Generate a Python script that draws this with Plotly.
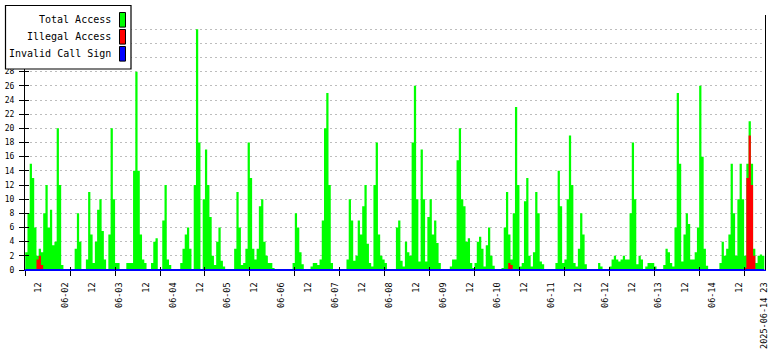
import plotly.graph_objects as go
import pandas as pd

# ---------------- data (hourly counts) ----------------
total_access = [
    2.5, 8, 15, 13, 6, 2, 3, 2.5, 8, 12,
    6, 8.5, 3.5, 4, 20, 12, 0.7, 0, 0, 0,
    0, 0, 3, 8, 4, 0, 0, 1.5, 11, 5,
    1, 4, 8.5, 10, 5.5, 1.5, 0, 5, 20, 10,
    1, 1, 0, 0, 0, 1, 1, 1, 14, 28,
    14, 5, 1.5, 1, 0, 0, 1, 4, 4.5, 0,
    0, 7, 12, 1.5, 0.7, 0, 0, 0, 0, 1,
    3, 5, 6, 3, 0, 12, 34, 18, 0, 10,
    17, 12, 7.5, 2, 0.7, 4, 6, 1.3, 0.5, 0,
    0, 0, 0, 3, 11, 6, 0.7, 1, 3, 18,
    13, 3, 1.5, 3, 9, 10, 4, 2, 1, 1,
    0.3, 0, 0, 0, 0, 0, 0, 0, 0, 1,
    8, 6, 2.5, 0.8, 0, 0, 0, 0.5, 1, 1,
    0.7, 1.5, 7, 20, 25, 12, 1, 0, 0, 0,
    0, 0, 0, 1.5, 10, 7, 1.3, 2, 7, 5,
    9, 12, 3.7, 1, 0.5, 12, 18, 5, 2, 1.5,
    1, 0, 0, 0, 0, 6, 7, 1.3, 0.5, 4,
    2.5, 2, 18, 26, 10, 1.2, 17, 10, 1.2, 7.5,
    10, 5, 7, 3.8, 1, 0, 0, 0, 0, 0.5,
    1.5, 1.5, 15.5, 20, 10, 9, 4, 4.5, 1, 0.3,
    1, 4, 4.7, 3, 0.5, 3.5, 6, 2, 0.6, 0,
    0, 0, 0.3, 6, 11, 5, 1.5, 8, 23, 12,
    0.5, 1, 9.7, 13, 2, 0.5, 2.5, 11, 8, 1.2,
    0.8, 0, 0, 0, 0, 0, 1, 14, 9, 1,
    1.5, 10, 19, 12, 1, 0.5, 3, 8, 5, 0.8,
    0, 0, 0, 0, 0, 1, 0.5, 0, 0, 0,
    0.5, 1.5, 2, 1.5, 1.2, 1.5, 2, 1.5, 1.5, 8,
    18, 10, 0.8, 2, 1.5, 0, 0.5, 1, 1, 1,
    0.5, 0, 0, 0, 0.7, 3, 2.5, 1, 0.5, 6,
    25, 15, 1.2, 5, 8, 6.5, 1.5, 1.5, 2.5, 6,
    26, 16, 3, 0.6, 0, 0, 0, 0, 0, 1,
    4, 2, 3, 5, 15, 8, 2, 10, 15, 10,
    2, 15, 21, 15, 3, 1, 2, 2.2, 2,
]

illegal_access = [0] * len(total_access)
illegal_hours = [5, 6, 7, 215, 216, 320, 321, 322, 323, 324]
illegal_values = [1.5, 2, 0.7, 1, 0.7, 0.3, 13, 19, 12, 2]
for h, v in zip(illegal_hours, illegal_values):
    illegal_access[h] = v

invalid_call_sign = [0] * len(total_access)

series_start = "2025-06-01 06:00"
x_range = ["2025-06-01 05:54", "2025-06-14 23:18"]

label_times = [
    "2025-06-01 12:00", "2025-06-02 00:00", "2025-06-02 12:00", "2025-06-03 00:00",
    "2025-06-03 12:00", "2025-06-04 00:00", "2025-06-04 12:00", "2025-06-05 00:00",
    "2025-06-05 12:00", "2025-06-06 00:00", "2025-06-06 12:00", "2025-06-07 00:00",
    "2025-06-07 12:00", "2025-06-08 00:00", "2025-06-08 12:00", "2025-06-09 00:00",
    "2025-06-09 12:00", "2025-06-10 00:00", "2025-06-10 12:00", "2025-06-11 00:00",
    "2025-06-11 12:00", "2025-06-12 00:00", "2025-06-12 12:00", "2025-06-13 00:00",
    "2025-06-13 12:00", "2025-06-14 00:00", "2025-06-14 12:00", "2025-06-14 23:00",
]
label_text = [
    "12", "06-02", "12", "06-03", "12", "06-04", "12", "06-05",
    "12", "06-06", "12", "06-07", "12", "06-08", "12", "06-09",
    "12", "06-10", "12", "06-11", "12", "06-12", "12", "06-13",
    "12", "06-14", "12", "2025-06-14 23",
]
tick_mark_times = pd.date_range("2025-06-01 06:00", periods=17, freq="20h")

y_tick_vals = [0, 2, 4, 6, 8, 10, 12, 14, 16, 18, 20, 22, 24, 26, 28, 30, 32, 34, 36]
# labels from 30 up are hidden behind the legend box in the reference
y_tick_text = ["0", "2", "4", "6", "8", "10", "12", "14", "16", "18", "20",
               "22", "24", "26", "28", "", "", "", ""]

legend_names = ["Total Access", "Illegal Access", "Invalid Call Sign"]
legend_colors = ["#00ff00", "#ff0000", "#0000ff"]

# ---------------- figure ----------------
W, H = 780, 350
ML, MR, MT, MB = 25, 15, 15, 80
PW, PH = W - ML - MR, H - MT - MB

def px_x(p):
    return (p - ML) / PW

def px_y(p):
    return (H - MB - p) / PH

times = pd.date_range(series_start, periods=len(total_access), freq="h")
# one extra step so the last hourly value gets its full width
step_times = list(times) + [times[-1] + pd.Timedelta(hours=1)]
FONT = "DejaVu Sans Mono"

def steps(vals):
    return list(vals) + [vals[-1]]

fig = go.Figure()
fig.add_trace(go.Scatter(
    x=step_times, y=steps(total_access), mode="lines", line=dict(width=0, shape="hv"),
    fill="tozeroy", fillcolor="#00ff00",
    name="Total Access", xaxis="x", yaxis="y",
))
fig.add_trace(go.Scatter(
    x=step_times, y=steps(illegal_access), mode="lines", line=dict(width=0, shape="hv"),
    fill="tozeroy", fillcolor="#ff0000",
    name="Illegal Access", xaxis="x2", yaxis="y2",
))
fig.add_trace(go.Scatter(
    x=step_times, y=steps(invalid_call_sign), mode="lines",
    line=dict(color="#0000ff", width=2, shape="hv"),
    name="Invalid Call Sign", xaxis="x3", yaxis="y",
))

common_x = dict(type="date", range=x_range, showgrid=False, zeroline=False, automargin=False)
fig.update_layout(
    width=W, height=H,
    margin=dict(l=ML, r=MR, t=MT, b=MB, autoexpand=False),
    paper_bgcolor="white", plot_bgcolor="white",
    showlegend=False,
    font=dict(family=FONT, color="black"),
    xaxis=dict(
        **common_x, anchor="y",
        tickmode="array", tickvals=label_times, ticktext=label_text,
        tickangle=-90, ticks="", ticklabelstandoff=8,
        tickfont=dict(family=FONT, size=8.5, color="black"),
        showline=True, linecolor="#0000ff", linewidth=1,
    ),
    xaxis2=dict(
        **common_x, overlaying="x", anchor="y2",
        tickmode="array", tickvals=tick_mark_times, showticklabels=False,
        ticks="outside", ticklen=5, tickcolor="black", tickwidth=1, showline=False,
    ),
    xaxis3=dict(
        **common_x, overlaying="x", anchor="y",
        tickmode="array", tickvals=tick_mark_times, showticklabels=False,
        ticks="inside", ticklen=3, tickcolor="black", tickwidth=1, showline=False,
    ),
    yaxis=dict(
        range=[0, 36], tickmode="array", tickvals=y_tick_vals, ticktext=y_tick_text,
        ticks="outside", ticklen=5, tickcolor="black", tickwidth=1,
        tickfont=dict(family=FONT, size=8, color="black"), ticklabelstandoff=3,
        showgrid=True, gridcolor="#bdbdbd", griddash="2px,3px", gridwidth=1,
        zeroline=False, showline=True, linecolor="black", linewidth=1, mirror=True,
        automargin=False,
    ),
    yaxis2=dict(
        range=[0, 36], tickmode="array", tickvals=y_tick_vals, overlaying="y",
        ticks="inside", ticklen=4, tickcolor="black", tickwidth=1,
        showticklabels=False, showgrid=False, zeroline=False, showline=False,
        automargin=False,
    ),
)

# legend box drawn by hand (swatches sit to the right of the labels)
shapes = [dict(type="rect", xref="paper", yref="paper", layer="above",
               x0=px_x(5.5), x1=px_x(131), y0=px_y(69), y1=px_y(5.5),
               fillcolor="white", line=dict(color="black", width=1.2))]
annotations = []
row_centers = [19.8, 36.8, 53.8]
for name, color, cy in zip(legend_names, legend_colors, row_centers):
    shapes.append(dict(type="rect", xref="paper", yref="paper", layer="above",
                       x0=px_x(119.5), x1=px_x(125.5), y0=px_y(cy + 7.3), y1=px_y(cy - 7.3),
                       fillcolor=color, line=dict(color="black", width=1)))
    annotations.append(dict(xref="paper", yref="paper", x=px_x(112.5), y=px_y(cy),
                            xanchor="right", yanchor="middle", showarrow=False,
                            text=name, font=dict(family=FONT, size=10, color="black")))
fig.update_layout(shapes=shapes, annotations=annotations)

fig.write_html("out.html")
